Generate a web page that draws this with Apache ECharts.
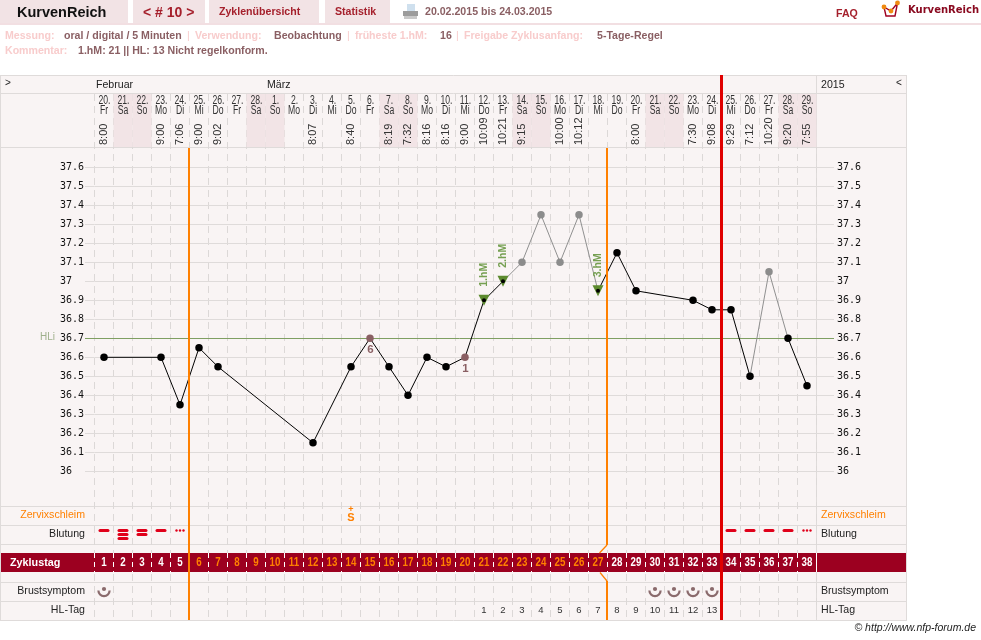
<!DOCTYPE html>
<html lang="de">
<head>
<meta charset="utf-8">
<title>KurvenReich Zyklus 10</title>
<style>html,body{margin:0;padding:0;background:#fff}#chart{width:981px;height:640px}</style>
<script src="https://cdn.jsdelivr.net/npm/echarts@6/dist/echarts.min.js"></script>
</head>
<body>
<div id="chart"></div>
<script>
// Cycle data, one entry per cycle day
const cycleDays = [1,2,3,4,5,6,7,8,9,10,11,12,13,14,15,16,17,18,19,20,21,22,23,24,25,26,27,28,29,30,31,32,33,34,35,36,37,38];
const dates = ['20.','21.','22.','23.','24.','25.','26.','27.','28.','1.','2.','3.','4.','5.','6.','7.','8.','9.','10.','11.','12.','13.','14.','15.','16.','17.','18.','19.','20.','21.','22.','23.','24.','25.','26.','27.','28.','29.'];
const weekdays = ['Fr','Sa','So','Mo','Di','Mi','Do','Fr','Sa','So','Mo','Di','Mi','Do','Fr','Sa','So','Mo','Di','Mi','Do','Fr','Sa','So','Mo','Di','Mi','Do','Fr','Sa','So','Mo','Di','Mi','Do','Fr','Sa','So'];
const times = ['8:00','','','9:00','7:06','9:00','9:02','','','','','8:07','','8:40','','8:19','7:32','8:16','8:16','9:00','10:09','10:21','9:15','','10:00','10:12','','','8:00','','','7:30','9:08','9:29','7:12','10:20','9:20','7:55'];
const temperatures = [36.6,null,null,36.6,36.35,36.65,36.55,null,null,null,null,36.15,null,36.55,36.7,36.55,36.4,36.6,36.55,36.6,36.9,37.0,37.1,37.35,37.1,37.35,36.95,37.15,36.95,null,null,36.9,36.85,36.85,36.5,37.05,36.7,36.45];
const excludedDays = [23,24,25,26,36];
const lowPhaseCounts = [[15,6],[20,1]];
const peakDays = [[21,'1.hM'],[22,'2.hM'],[27,'3.hM']];
const coverLine = 36.7;
const bleeding = [[1,1],[2,3],[3,2],[4,1],[5,0],[34,1],[35,1],[36,1],[37,1],[38,0]];
const mucus = [[14,'+','S']];
const breastDays = [1,30,31,32,33];
const highPhaseDays = [[21,1],[22,2],[23,3],[24,4],[25,5],[26,6],[27,7],[28,8],[29,9],[30,10],[31,11],[32,12],[33,13]];
const phaseStartAfter = 5;
const phaseEndAfter = 27;
const cycleEndAfter = 33;

// Palette and fonts
const SANS = '"Liberation Sans", Arial, sans-serif';
const MONO = '"DejaVu Sans Mono", monospace';
const PANEL = '#f9f4f4', RULE = '#dfdbda', DASH = '#dcd8d7', TAB = '#f2e3e5', WEEKEND = '#f2e4e6';
const BAND = '#9c0020', ORANGE = '#ff8000', RED = '#e00000', BROWN = '#8a5f63', PINK = '#f8cccc', MAROON = '#a5202c', GREEN = '#76a052', GREENTRI = '#5c8a2e';
const BODY = 10.6;

// Page furniture
function txt(x, y, text, size, color, opts) {
  const o = opts || {};
  return {type: 'text', z: 20, silent: true, x: x, y: y, style: {
    text: text, fontSize: size, fontFamily: o.family || SANS, fontWeight: o.weight || 'normal',
    fontStyle: o.style || 'normal', fill: color, align: o.align || 'left', verticalAlign: 'middle'
  }};
}
function box(x, y, w, h, color, z) {
  return {type: 'rect', z: z === undefined ? -5 : z, silent: true, shape: {x: x, y: y, width: w, height: h}, style: {fill: color}};
}
function hrule(x1, x2, y) {
  return {type: 'line', z: -2, silent: true, shape: {x1: x1, y1: y, x2: x2, y2: y}, style: {stroke: RULE, lineWidth: 1}};
}
function vrule(x, y1, y2, color, z) {
  return {type: 'line', z: z === undefined ? -2 : z, silent: true, shape: {x1: x, y1: y1, x2: x, y2: y2}, style: {stroke: color || RULE, lineWidth: 1}};
}

const furniture = [
  box(0, 0, 128, 23, TAB), box(133, 0, 72, 23, TAB), box(209, 0, 110, 23, TAB), box(325, 0, 65, 23, TAB),
  box(0, 23, 981, 2, '#f2dfe2'),
  box(1, 75, 905, 545, PANEL, -6),
  hrule(1, 906, 75.5), hrule(1, 906, 93.5), hrule(1, 906, 147.5),
  hrule(1, 906, 506.5), hrule(1, 906, 525.5), hrule(1, 906, 544.5),
  hrule(1, 906, 582.5), hrule(1, 906, 601.5), hrule(1, 906, 620.5),
  vrule(0.5, 75, 621), vrule(906.5, 75, 621), vrule(816.5, 75, 621),
  box(1, 553, 905, 19, BAND, 1),
  vrule(816.5, 553, 572, '#ffffff', 2),

  txt(17, 13, 'KurvenReich', 14.5, '#111', {weight: 'bold'}),
  txt(143, 13, '< # 10 >', 14, MAROON, {weight: 'bold'}),
  txt(219, 12, 'Zyklenübersicht', BODY, MAROON, {weight: 'bold'}),
  txt(335, 12, 'Statistik', BODY, MAROON, {weight: 'bold'}),
  txt(425, 12, '20.02.2015 bis 24.03.2015', BODY, BROWN, {weight: 'bold'}),
  txt(836, 14, 'FAQ', BODY, MAROON, {weight: 'bold'}),
  txt(908, 10, 'KurvenReich', 10, '#8a0a20', {weight: 'bold', family: '"DejaVu Sans", sans-serif'}),

  txt(5, 36, 'Messung:', BODY, PINK, {weight: 'bold'}),
  txt(64, 36, 'oral / digital / 5 Minuten', BODY, BROWN, {weight: 'bold'}),
  txt(187, 36, '|', BODY, PINK),
  txt(195, 36, 'Verwendung:', BODY, PINK, {weight: 'bold'}),
  txt(274, 36, 'Beobachtung', BODY, BROWN, {weight: 'bold'}),
  txt(347, 36, '|', BODY, PINK),
  txt(355, 36, 'früheste 1.hM:', BODY, PINK, {weight: 'bold'}),
  txt(440, 36, '16', BODY, BROWN, {weight: 'bold'}),
  txt(456, 36, '|', BODY, PINK),
  txt(464, 36, 'Freigabe Zyklusanfang:', BODY, PINK, {weight: 'bold'}),
  txt(597, 36, '5-Tage-Regel', BODY, BROWN, {weight: 'bold'}),
  txt(5, 51, 'Kommentar:', BODY, PINK, {weight: 'bold'}),
  txt(78, 51, '1.hM: 21 || HL: 13 Nicht regelkonform.', BODY, BROWN, {weight: 'bold'}),

  txt(5, 83, '>', 10, '#222'),
  txt(96, 85, 'Februar', BODY, '#222'),
  txt(267, 85, 'März', BODY, '#222'),
  txt(821, 85, '2015', BODY, '#222'),
  txt(896, 83, '<', 10, '#222'),

  txt(40, 337, 'HLi', 10, '#9fb08c'),
  txt(85, 515, 'Zervixschleim', BODY, ORANGE, {align: 'right'}),
  txt(85, 534, 'Blutung', BODY, '#222', {align: 'right'}),
  txt(10, 563, 'Zyklustag', 10.8, '#ffffff', {weight: 'bold'}),
  txt(85, 591, 'Brustsymptom', BODY, '#222', {align: 'right'}),
  txt(85, 610, 'HL-Tag', BODY, '#222', {align: 'right'}),
  txt(821, 515, 'Zervixschleim', BODY, ORANGE),
  txt(821, 534, 'Blutung', BODY, '#222'),
  txt(821, 591, 'Brustsymptom', BODY, '#222'),
  txt(821, 610, 'HL-Tag', BODY, '#222'),
  txt(976, 628, '© http://www.nfp-forum.de', 10.5, '#222', {align: 'right', style: 'italic'}),

  // printer icon
  box(407, 4, 8, 7, '#cfe0ee', 20), box(403, 11, 15, 5, '#9c9c9c', 20), box(404, 16, 13, 3, '#c9c9c9', 20),
  // logo mark
  {type: 'polyline', z: 20, silent: true, shape: {points: [[884, 7], [886, 16], [895, 16], [897.5, 3], [891, 11], [884, 7]]}, style: {stroke: '#a00020', fill: 'none', lineWidth: 1.4}},
  {type: 'circle', z: 21, silent: true, shape: {cx: 884, cy: 7, r: 2.4}, style: {fill: '#f08a10'}},
  {type: 'circle', z: 21, silent: true, shape: {cx: 891, cy: 11, r: 2.4}, style: {fill: '#f08a10'}},
  {type: 'circle', z: 21, silent: true, shape: {cx: 897.5, cy: 3, r: 2.4}, style: {fill: '#f08a10'}}
];

// Temperature line: each run of unbroken colour becomes its own series
const measured = cycleDays.filter(function (d) { return temperatures[d - 1] !== null; });
const isExcluded = function (d) { return excludedDays.indexOf(d) >= 0; };
const lineRuns = [];
for (let i = 0; i + 1 < measured.length; i++) {
  const a = measured[i], b = measured[i + 1];
  const color = (isExcluded(a) || isExcluded(b)) ? '#909090' : '#000000';
  const last = lineRuns[lineRuns.length - 1];
  if (last && last.color === color) { last.days.push(b); } else { lineRuns.push({color: color, days: [a, b]}); }
}
const lineSeries = lineRuns.map(function (run) {
  return {
    type: 'line', xAxisIndex: 0, yAxisIndex: 0, z: 6, showSymbol: false, silent: true,
    data: run.days.map(function (d) { return [d - 1, temperatures[d - 1]]; }),
    lineStyle: {color: run.color, width: 1}
  };
});

const peakOnly = peakDays.map(function (p) { return p[0]; });
const lowOnly = lowPhaseCounts.map(function (p) { return p[0]; });

// Row overlay helpers: x comes from the day axis, y is given in page rows
function edgeOf(api, afterDay) {
  const c = api.coord([afterDay - 1, 100]);
  return c[0] + api.size([1, 0])[0] / 2;
}
function squeezed(text, x, y, size, color, weight, squeeze) {
  return {type: 'text', x: x, y: y, scaleX: squeeze,
    style: {text: text, fontFamily: SANS, fontSize: size, fontWeight: weight, fill: color, align: 'center', verticalAlign: 'middle'}};
}

const chartSeries = lineSeries.concat([
  // cover line, running on into the tick stubs at both ends
  {type: 'custom', xAxisIndex: 0, yAxisIndex: 0, z: 4, silent: true, data: [[0, coverLine]],
    renderItem: function (p, api) {
      const y = Math.round(api.coord([0, api.value(1)])[1]) + 0.5;
      return {type: 'line', shape: {x1: 85, y1: y, x2: 834, y2: y}, style: {stroke: '#7f9f62', lineWidth: 1}};
    }},
  // peak markers
  {type: 'scatter', xAxisIndex: 0, yAxisIndex: 0, z: 7, silent: true, symbol: 'triangle', symbolRotate: 180, symbolSize: [11, 11],
    data: peakOnly.map(function (d) { return [d - 1, temperatures[d - 1]]; }), itemStyle: {color: GREENTRI, opacity: 1}},
  {type: 'custom', xAxisIndex: 0, yAxisIndex: 0, z: 8, silent: true,
    data: peakDays.map(function (p) { return [p[0] - 1, temperatures[p[0] - 1]]; }),
    renderItem: function (p, api) {
      const c = api.coord([api.value(0), api.value(1)]);
      return {type: 'text', x: c[0], y: c[1] - 13.5, rotation: Math.PI / 2,
        style: {text: peakDays[p.dataIndex][1], fontSize: BODY, fontWeight: 'bold', fontFamily: SANS, fill: GREEN, align: 'left', verticalAlign: 'middle'}};
    }},
  // measurement points
  {type: 'scatter', xAxisIndex: 0, yAxisIndex: 0, z: 9, silent: true,
    data: measured.map(function (d) { return [d - 1, temperatures[d - 1]]; }),
    symbolSize: function (v) { return peakOnly.indexOf(v[0] + 1) >= 0 ? 4 : 7.5; },
    itemStyle: {opacity: 1, color: function (p) {
      const d = p.value[0] + 1;
      if (isExcluded(d)) return '#8c8c8c';
      if (lowOnly.indexOf(d) >= 0) return BROWN;
      return '#000000';
    }}},
  // low-phase counting digits
  {type: 'custom', xAxisIndex: 0, yAxisIndex: 0, z: 9, silent: true,
    data: lowPhaseCounts.map(function (p) { return [p[0] - 1, temperatures[p[0] - 1], p[1]]; }),
    renderItem: function (p, api) {
      const c = api.coord([api.value(0), api.value(1)]);
      return {type: 'text', style: {text: String(api.value(2)), x: c[0] + 0.5, y: c[1] + 11.5, fontFamily: SANS, fontSize: 11.5, fontWeight: 'bold', fill: BROWN, align: 'center', verticalAlign: 'middle'}};
    }},

  // weekend shading in the date row
  {type: 'custom', xAxisIndex: 1, yAxisIndex: 2, z: 1, silent: true,
    data: cycleDays.filter(function (d) { return weekdays[d - 1] === 'Sa' || weekdays[d - 1] === 'So'; }).map(function (d) { return [d - 1, 94]; }),
    renderItem: function (p, api) {
      const c = api.coord([api.value(0), 94]), w = api.size([1, 0])[0], b = api.coord([api.value(0), 147])[1];
      return {type: 'rect', shape: {x: c[0] - w / 2, y: c[1], width: w, height: b - c[1]}, style: {fill: WEEKEND}};
    }},
  // date, weekday and time columns
  {type: 'custom', xAxisIndex: 1, yAxisIndex: 2, z: 3, silent: true,
    data: cycleDays.map(function (d) { return [d - 1, 100]; }),
    renderItem: function (p, api) {
      const i = api.value(0), x = api.coord([i, 0])[0];
      const kids = [
        squeezed(dates[i], x + 0.5, api.coord([i, 101])[1], 12, '#333', 'normal', 0.72),
        squeezed(weekdays[i], x, api.coord([i, 111])[1], 12, '#333', 'normal', 0.72)
      ];
      if (times[i]) {
        kids.push({type: 'text', x: x, y: api.coord([i, 145])[1], rotation: Math.PI / 2,
          style: {text: times[i], fontFamily: SANS, fontSize: 11, fill: '#333', align: 'left', verticalAlign: 'middle'}});
      }
      return {type: 'group', children: kids};
    }},
  // cycle day numbers in the dark band
  {type: 'custom', xAxisIndex: 2, yAxisIndex: 3, z: 5, silent: true,
    data: cycleDays.map(function (d) { return [d - 1, 0.5]; }),
    renderItem: function (p, api) {
      const i = api.value(0), c = api.coord([i, 0.5]), d = cycleDays[i];
      const inPhase = d > phaseStartAfter && d <= phaseEndAfter;
      return squeezed(String(d), c[0], c[1], 12.5, inPhase ? ORANGE : '#ffffff', 'bold', 0.78);
    }},
  // mucus row
  {type: 'custom', xAxisIndex: 1, yAxisIndex: 2, z: 6, silent: true,
    data: mucus.map(function (m) { return [m[0] - 1, 515]; }),
    renderItem: function (p, api) {
      const i = api.value(0), x = api.coord([i, 0])[0], m = mucus[p.dataIndex];
      const s = {fontFamily: SANS, fontWeight: 'bold', fill: ORANGE, align: 'center', verticalAlign: 'middle'};
      return {type: 'group', children: [
        {type: 'text', style: Object.assign({}, s, {text: m[1], fontSize: 9, x: x, y: api.coord([i, 509.5])[1]})},
        {type: 'text', style: Object.assign({}, s, {text: m[2], fontSize: 11, x: x, y: api.coord([i, 518])[1]})}
      ]};
    }},
  // bleeding row: 0 means spotting dots, otherwise a stack of dashes
  {type: 'custom', xAxisIndex: 1, yAxisIndex: 2, z: 6, silent: true,
    data: bleeding.map(function (b) { return [b[0] - 1, 530.5, b[1]]; }),
    renderItem: function (p, api) {
      const i = api.value(0), n = api.value(2), x = api.coord([i, 0])[0], kids = [];
      if (n === 0) {
        [-3.5, 0, 3.5].forEach(function (dx) {
          kids.push({type: 'circle', shape: {cx: x + dx, cy: api.coord([i, 530.5])[1], r: 1.2}, style: {fill: '#e0001a'}});
        });
      }
      for (let k = 0; k < n; k++) {
        kids.push({type: 'rect', shape: {x: x - 5.5, y: api.coord([i, 529 + k * 4])[1], width: 11, height: 3, r: 1.5}, style: {fill: '#e0001a'}});
      }
      return {type: 'group', children: kids};
    }},
  // breast symptom row
  {type: 'custom', xAxisIndex: 1, yAxisIndex: 2, z: 6, silent: true,
    data: breastDays.map(function (d) { return [d - 1, 590]; }),
    renderItem: function (p, api) {
      const i = api.value(0), x = api.coord([i, 0])[0], y = api.coord([i, 590.5])[1];
      return {type: 'group', children: [
        {type: 'circle', shape: {cx: x, cy: y - 1.5, r: 2.1}, style: {fill: '#8a6a6c'}},
        {type: 'arc', shape: {cx: x, cy: y, r: 5.6, startAngle: 0, endAngle: Math.PI, clockwise: true}, style: {stroke: '#8a6a6c', fill: 'none', lineWidth: 2.2}}
      ]};
    }},
  // high-phase count row
  {type: 'custom', xAxisIndex: 1, yAxisIndex: 2, z: 6, silent: true,
    data: highPhaseDays.map(function (h) { return [h[0] - 1, 610.5, h[1]]; }),
    renderItem: function (p, api) {
      const c = api.coord([api.value(0), 610.5]);
      return {type: 'text', style: {text: String(api.value(2)), x: c[0], y: c[1], fontFamily: SANS, fontSize: 9.5, fill: '#333', align: 'center', verticalAlign: 'middle'}};
    }},
  // phase boundaries and end of the cycle
  {type: 'custom', xAxisIndex: 1, yAxisIndex: 2, z: 10, silent: true,
    data: [[phaseStartAfter - 1, 148]],
    renderItem: function (p, api) {
      const x = edgeOf(api, phaseStartAfter) - 0.5;
      return {type: 'rect', shape: {x: x - 1, y: api.coord([0, 148])[1], width: 2, height: api.coord([0, 620])[1] - api.coord([0, 148])[1]}, style: {fill: ORANGE}};
    }},
  {type: 'custom', xAxisIndex: 1, yAxisIndex: 2, z: 10, silent: true,
    data: [[phaseEndAfter - 1, 148]],
    renderItem: function (p, api) {
      const x = edgeOf(api, phaseEndAfter) - 0.5;
      const Y = function (v) { return api.coord([0, v])[1]; };
      return {type: 'group', children: [
        {type: 'rect', shape: {x: x - 1, y: Y(148), width: 2, height: Y(545) - Y(148)}, style: {fill: ORANGE}},
        {type: 'polyline', shape: {points: [[x, Y(545)], [x - 7.5, Y(553)]]}, style: {stroke: ORANGE, fill: 'none', lineWidth: 1.2}},
        {type: 'polyline', shape: {points: [[x - 7, Y(572.5)], [x, Y(581)]]}, style: {stroke: ORANGE, fill: 'none', lineWidth: 1.2}},
        {type: 'rect', shape: {x: x - 1, y: Y(581), width: 2, height: Y(620) - Y(581)}, style: {fill: ORANGE}}
      ]};
    }},
  {type: 'custom', xAxisIndex: 1, yAxisIndex: 2, z: 11, silent: true,
    data: [[cycleEndAfter - 1, 75]],
    renderItem: function (p, api) {
      const x = edgeOf(api, cycleEndAfter);
      const top = api.coord([0, 75])[1], bottom = api.coord([0, 620])[1];
      return {type: 'rect', shape: {x: x - 1.5, y: top, width: 3, height: bottom - top}, style: {fill: RED}};
    }}
]);

const dayLabels = cycleDays.map(String);
const tempAxis = function (position, tickLen, margin) {
  return {
    type: 'value', gridIndex: 0, position: position, min: 36, max: 37.6, interval: 0.1, z: 2,
    axisLine: {show: false},
    axisTick: {show: true, length: tickLen, lineStyle: {color: RULE, width: 1}},
    axisLabel: {show: true, align: 'left', margin: margin, fontFamily: MONO, fontSize: 10, color: '#111',
      formatter: function (v) { return String(+v.toFixed(1)); }},
    splitLine: {show: position === 'left', lineStyle: {color: RULE, width: 1}}
  };
};

const chart = echarts.init(document.getElementById('chart'), null, {renderer: 'canvas', width: 981, height: 640});
chart.setOption({
  animation: false,
  backgroundColor: '#ffffff',
  graphic: {elements: furniture},
  grid: [
    {left: 94.5, width: 722, top: 167.3, height: 304, containLabel: false},
    {left: 94.5, width: 722, top: 94, height: 526, containLabel: false},
    {left: 94.5, width: 722, top: 553, height: 19, containLabel: false}
  ],
  xAxis: [
    {type: 'category', gridIndex: 0, data: dayLabels, boundaryGap: true, axisLine: {show: false}, axisTick: {show: false}, axisLabel: {show: false}, splitLine: {show: false}},
    {type: 'category', gridIndex: 1, data: dayLabels, boundaryGap: true, z: 0, axisLine: {show: false}, axisTick: {show: false}, axisLabel: {show: false},
      splitLine: {show: true, interval: 0, lineStyle: {color: DASH, width: 1, type: [7, 5]}}},
    {type: 'category', gridIndex: 2, data: dayLabels, boundaryGap: true, z: 3, axisLine: {show: false}, axisTick: {show: false}, axisLabel: {show: false},
      splitLine: {show: true, interval: 0, lineStyle: {color: '#ffffff', width: 1, type: [5, 4]}}}
  ],
  yAxis: [
    tempAxis('left', 9.5, 34.5),
    tempAxis('right', 17.5, 20.5),
    {type: 'value', gridIndex: 1, inverse: true, min: 94, max: 620, show: false},
    {type: 'value', gridIndex: 2, min: 0, max: 1, show: false}
  ],
  series: chartSeries
});
</script>
</body>
</html>
